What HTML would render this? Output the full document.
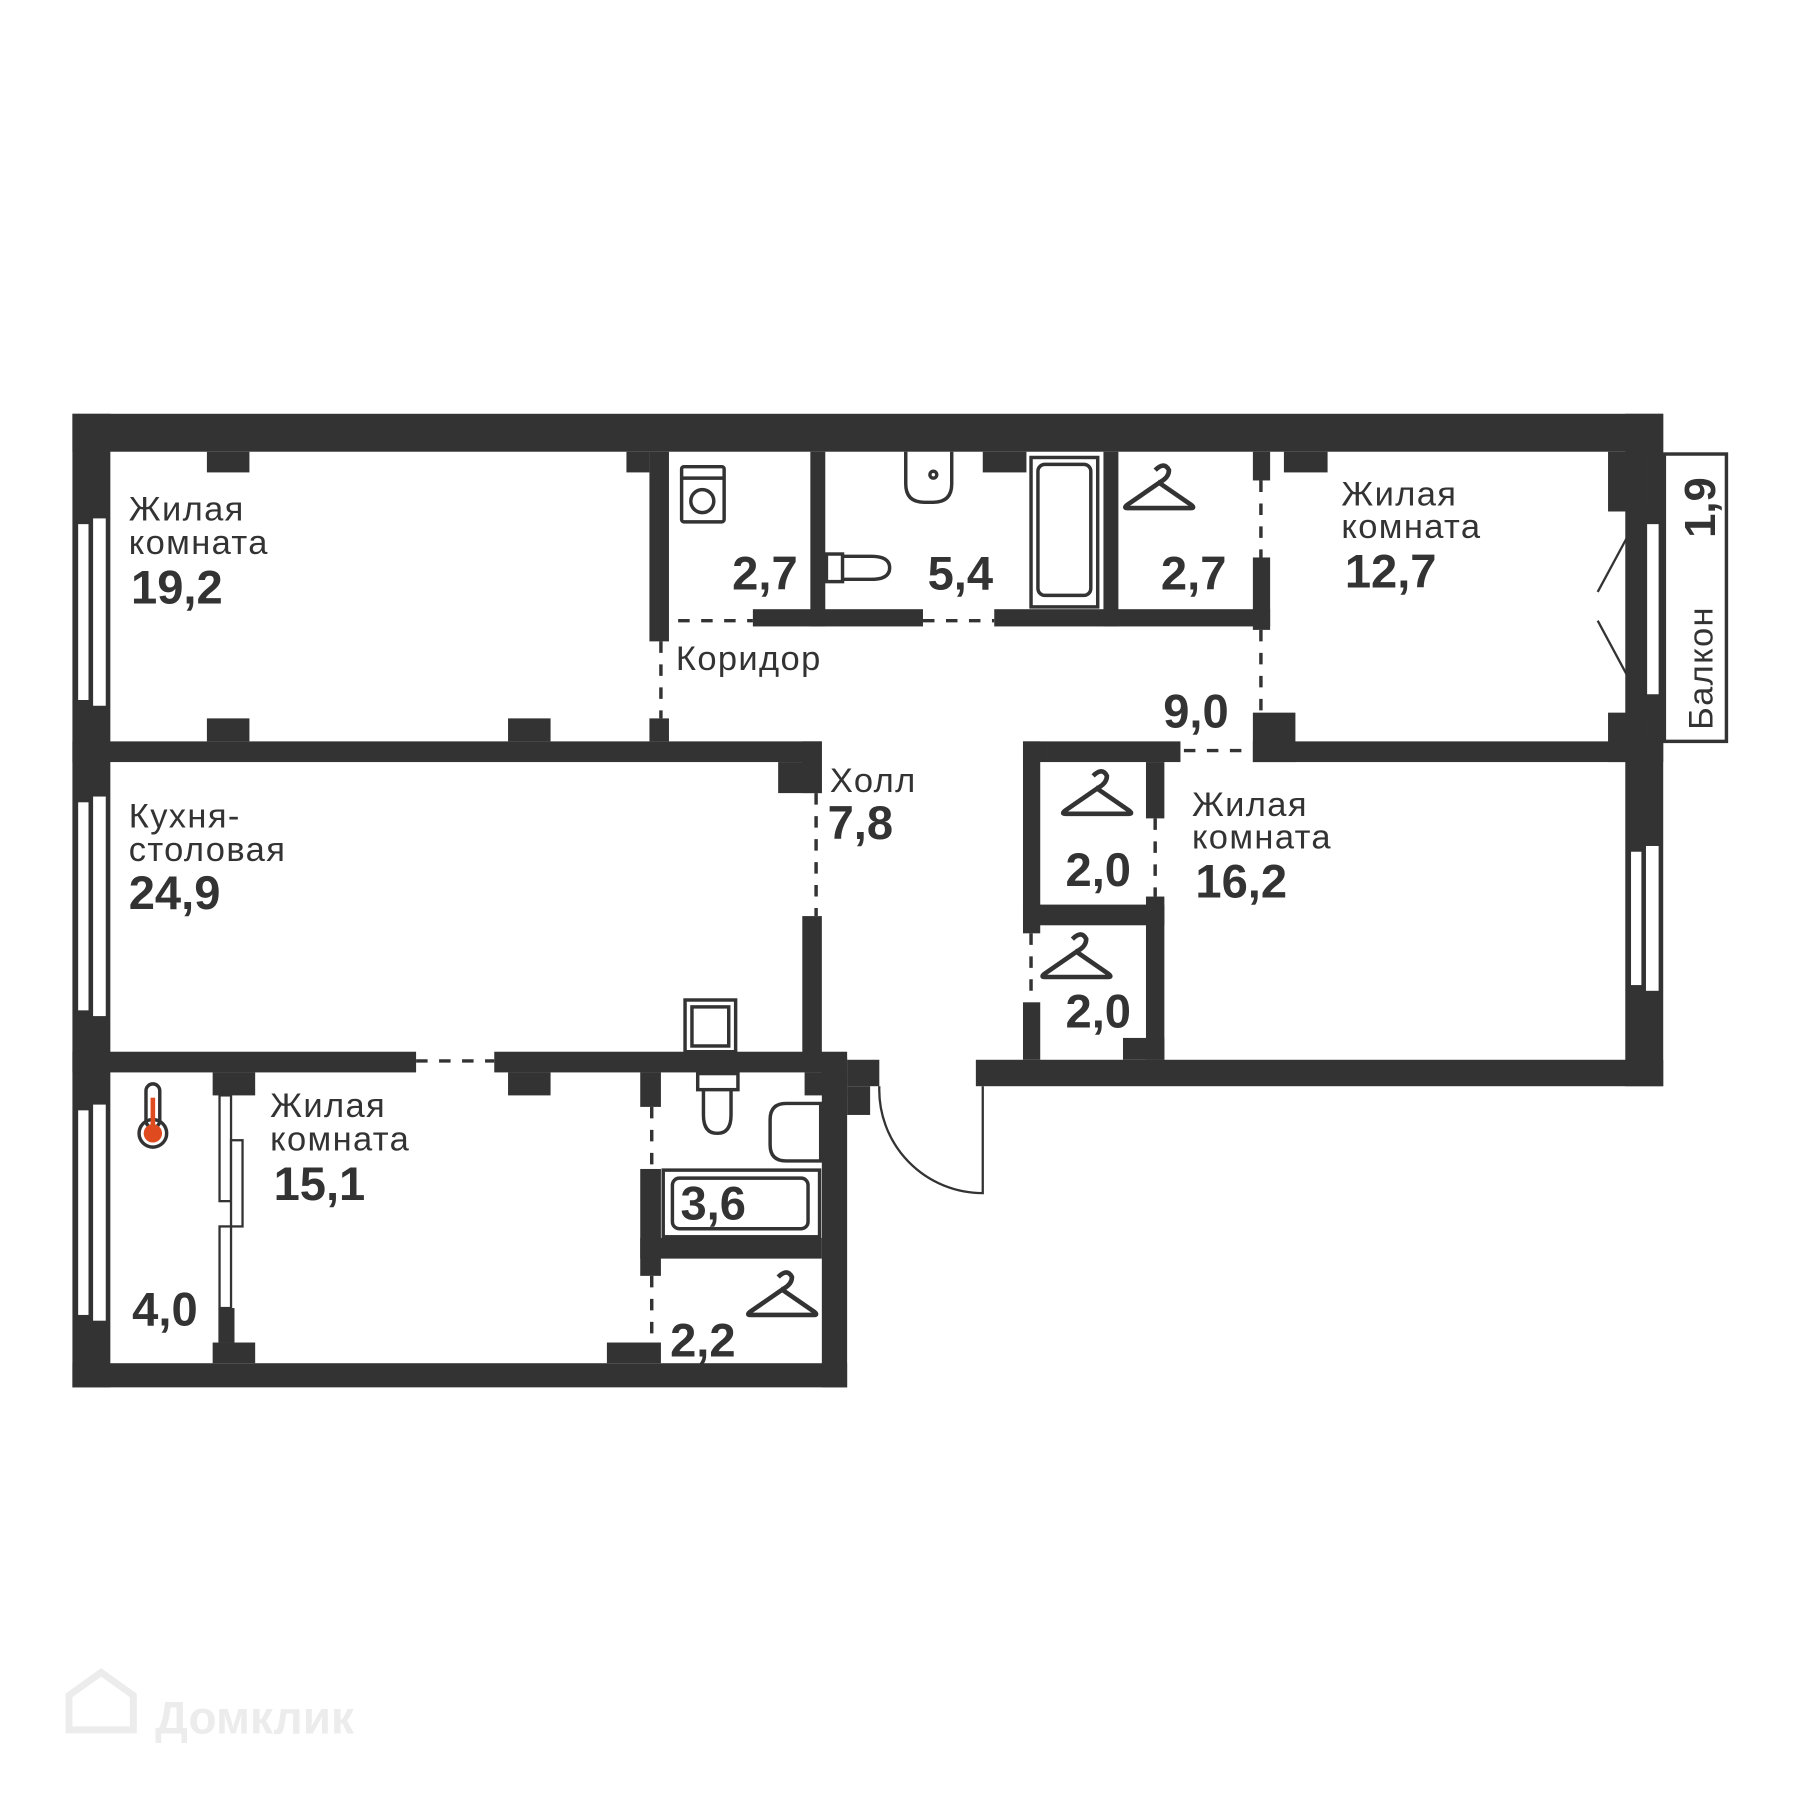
<!DOCTYPE html>
<html><head><meta charset="utf-8"><style>
html,body{margin:0;padding:0;background:#fff;}
svg{display:block;}
text{font-family:"Liberation Sans",sans-serif;fill:#333;}
.l{font-size:30px;letter-spacing:1.2px;}
.n{font-size:41px;font-weight:bold;}
</style></head><body>
<svg width="1800" height="1800" viewBox="0 0 1566 1566" xmlns="http://www.w3.org/2000/svg">
<g fill="#333">
<rect x="63" y="360" width="1384" height="33"/>
<rect x="63" y="360" width="33" height="847"/>
<rect x="63" y="1186" width="674" height="21"/>
<rect x="715" y="920" width="22" height="287"/>
<rect x="737" y="922" width="28" height="23"/>
<rect x="737" y="945" width="20" height="25"/>
<rect x="849" y="922" width="598" height="23"/>
<rect x="1414" y="360" width="33" height="585"/>
<rect x="180" y="393" width="37" height="18"/>
<rect x="545" y="393" width="20" height="18"/>
<rect x="855" y="393" width="38" height="18"/>
<rect x="1117" y="393" width="38" height="18"/>
<rect x="1399" y="393" width="28" height="52"/>
<rect x="1399" y="620" width="28" height="43"/>
<rect x="63" y="645" width="652" height="18"/>
<rect x="180" y="625" width="37" height="20"/>
<rect x="442" y="625" width="37" height="20"/>
<rect x="565" y="625" width="17" height="20"/>
<rect x="565" y="393" width="17" height="165"/>
<rect x="705" y="393" width="13" height="152"/>
<rect x="960" y="393" width="13" height="152"/>
<rect x="655" y="530" width="148" height="15"/>
<rect x="865" y="530" width="240" height="15"/>
<rect x="1090" y="393" width="15" height="25"/>
<rect x="1090" y="485" width="15" height="63"/>
<rect x="1090" y="620" width="37" height="43"/>
<rect x="1090" y="645" width="357" height="18"/>
<rect x="890" y="645" width="137" height="18"/>
<rect x="890" y="645" width="15" height="167"/>
<rect x="890" y="872" width="15" height="50"/>
<rect x="890" y="787" width="123" height="18"/>
<rect x="997" y="663" width="16" height="49"/>
<rect x="997" y="780" width="16" height="142"/>
<rect x="977" y="903" width="36" height="19"/>
<rect x="698" y="645" width="17" height="45"/>
<rect x="677" y="663" width="38" height="27"/>
<rect x="698" y="797" width="17" height="123"/>
<rect x="63" y="915" width="299" height="18"/>
<rect x="430" y="915" width="307" height="18"/>
<rect x="185" y="933" width="37" height="20"/>
<rect x="442" y="933" width="37" height="20"/>
<rect x="557" y="933" width="18" height="30"/>
<rect x="700" y="933" width="37" height="20"/>
<rect x="557" y="1017" width="18" height="93"/>
<rect x="557" y="1077" width="158" height="18"/>
<rect x="528" y="1168" width="47" height="18"/>
<rect x="185" y="1168" width="37" height="18"/>
<rect x="190" y="1138" width="14" height="30"/>
</g>
<g fill="#fff" stroke="#333" stroke-width="2">
<rect x="67" y="455" width="11" height="155"/><rect x="80" y="450" width="13" height="165"/>
<rect x="67" y="697" width="11" height="183"/><rect x="80" y="692" width="13" height="193"/>
<rect x="67" y="965" width="11" height="180"/><rect x="80" y="960" width="13" height="190"/>
<rect x="1418" y="740" width="11" height="118"/><rect x="1431" y="735" width="13" height="128"/>
<rect x="1432" y="455" width="12" height="150"/>
<rect x="191" y="953" width="10" height="92"/><rect x="201" y="992" width="10" height="75"/><rect x="191" y="1067" width="10" height="71"/>
</g>
<g stroke="#333" stroke-width="3" stroke-dasharray="10,10" fill="none">
<line x1="590" y1="540" x2="655" y2="540"/>
<line x1="803" y1="540" x2="865" y2="540"/>
<line x1="575" y1="558" x2="575" y2="625"/>
<line x1="1097" y1="418" x2="1097" y2="485"/>
<line x1="1097" y1="548" x2="1097" y2="620"/>
<line x1="1030" y1="653" x2="1090" y2="653"/>
<line x1="710" y1="690" x2="710" y2="797"/>
<line x1="1005" y1="712" x2="1005" y2="780"/>
<line x1="897" y1="812" x2="897" y2="872"/>
<line x1="362" y1="923" x2="430" y2="923"/>
<line x1="567" y1="963" x2="567" y2="1017"/>
<line x1="567" y1="1110" x2="567" y2="1168"/>
</g>
<path d="M765 945 A90 90 0 0 0 855 1038 L855 945" fill="none" stroke="#333" stroke-width="2"/>
<rect x="1448" y="395" width="54" height="250" fill="none" stroke="#333" stroke-width="3"/>
<line x1="1390" y1="515" x2="1425" y2="450" stroke="#333" stroke-width="2"/>
<line x1="1390" y1="540" x2="1425" y2="605" stroke="#333" stroke-width="2"/>
<text class="n" transform="translate(1492,468) rotate(-90)" style="font-size:38px">1,9</text>
<text class="l" transform="translate(1490,635) rotate(-90)">Балкон</text>
<g fill="none" stroke="#333" stroke-width="3">
<rect x="593" y="406" width="37" height="48" rx="2"/><line x1="593" y1="416" x2="630" y2="416"/><circle cx="611" cy="436" r="10"/>
<path d="M788 393 v28 q0 16 16 16 h8 q16 0 16 -16 v-28"/><circle cx="812" cy="413" r="3"/>
<rect x="719" y="482" width="14" height="24"/><path d="M733 484 h25 q16 0 16 10 q0 10 -16 10 h-25"/>
<rect x="897" y="398" width="58" height="130"/><rect x="903" y="404" width="46" height="114" rx="6"/>
<path d="M1005 409 q8 -8 12 0 q0 6 -7 10 l-29 20 q-4 3 0 3 h55 q4 0 0 -3 l-29 -20" stroke-width="4"/>
<path d="M951 675 q8 -8 12 0 q0 6 -7 10 l-29 20 q-4 3 0 3 h55 q4 0 0 -3 l-29 -20" stroke-width="4"/>
<path d="M933 817 q8 -8 12 0 q0 6 -7 10 l-29 20 q-4 3 0 3 h55 q4 0 0 -3 l-29 -20" stroke-width="4"/>
<path d="M677 1111 q8 -8 12 0 q0 6 -7 10 l-29 20 q-4 3 0 3 h55 q4 0 0 -3 l-29 -20" stroke-width="4"/>
<rect x="596" y="870" width="44" height="45"/><rect x="602" y="876" width="32" height="34"/>
<rect x="607" y="934" width="35" height="14"/><path d="M612 948 v22 q0 16 12 16 q12 0 12 -16 v-22"/>
<path d="M714 960 h-30 q-14 0 -14 14 v22 q0 14 14 14 h30 z"/>
<rect x="577" y="1018" width="136" height="58"/><rect x="585" y="1025" width="118" height="44" rx="6"/>
<rect x="127" y="943" width="12" height="38" rx="6"/><circle cx="133" cy="986" r="12"/>
</g>
<circle cx="133" cy="986" r="8" fill="#e04a1f"/><rect x="131" y="955" width="4" height="30" fill="#e04a1f"/>
<text class="l" x="112" y="453">Жилая</text><text class="l" x="112" y="482">комната</text><text class="n" x="114" y="525">19,2</text>
<text class="l" x="112" y="720">Кухня-</text><text class="l" x="112" y="749">столовая</text><text class="n" x="112" y="791">24,9</text>
<text class="l" x="235" y="972">Жилая</text><text class="l" x="235" y="1001">комната</text><text class="n" x="238" y="1044">15,1</text>
<text class="n" x="115" y="1153">4,0</text>
<text class="n" x="637" y="513">2,7</text><text class="n" x="807" y="513">5,4</text><text class="n" x="1010" y="513">2,7</text>
<text class="l" x="1167" y="440">Жилая</text><text class="l" x="1167" y="468">комната</text><text class="n" x="1170" y="511">12,7</text>
<text class="l" x="588" y="583">Коридор</text><text class="n" x="1012" y="633">9,0</text>
<text class="l" x="722" y="689">Холл</text><text class="n" x="720" y="730">7,8</text>
<text class="l" x="1037" y="710">Жилая</text><text class="l" x="1037" y="738">комната</text><text class="n" x="1040" y="781">16,2</text>
<text class="n" x="927" y="771">2,0</text><text class="n" x="927" y="894">2,0</text>
<text class="n" x="592" y="1061">3,6</text><text class="n" x="583" y="1180">2,2</text>
<text x="135" y="1508" style="font-size:40px;font-weight:bold;fill:#ececec">Домклик</text>
<path d="M60 1505 v-30 l28 -20 l28 20 v30 z" fill="none" stroke="#ececec" stroke-width="6"/>
</svg>
</body></html>
